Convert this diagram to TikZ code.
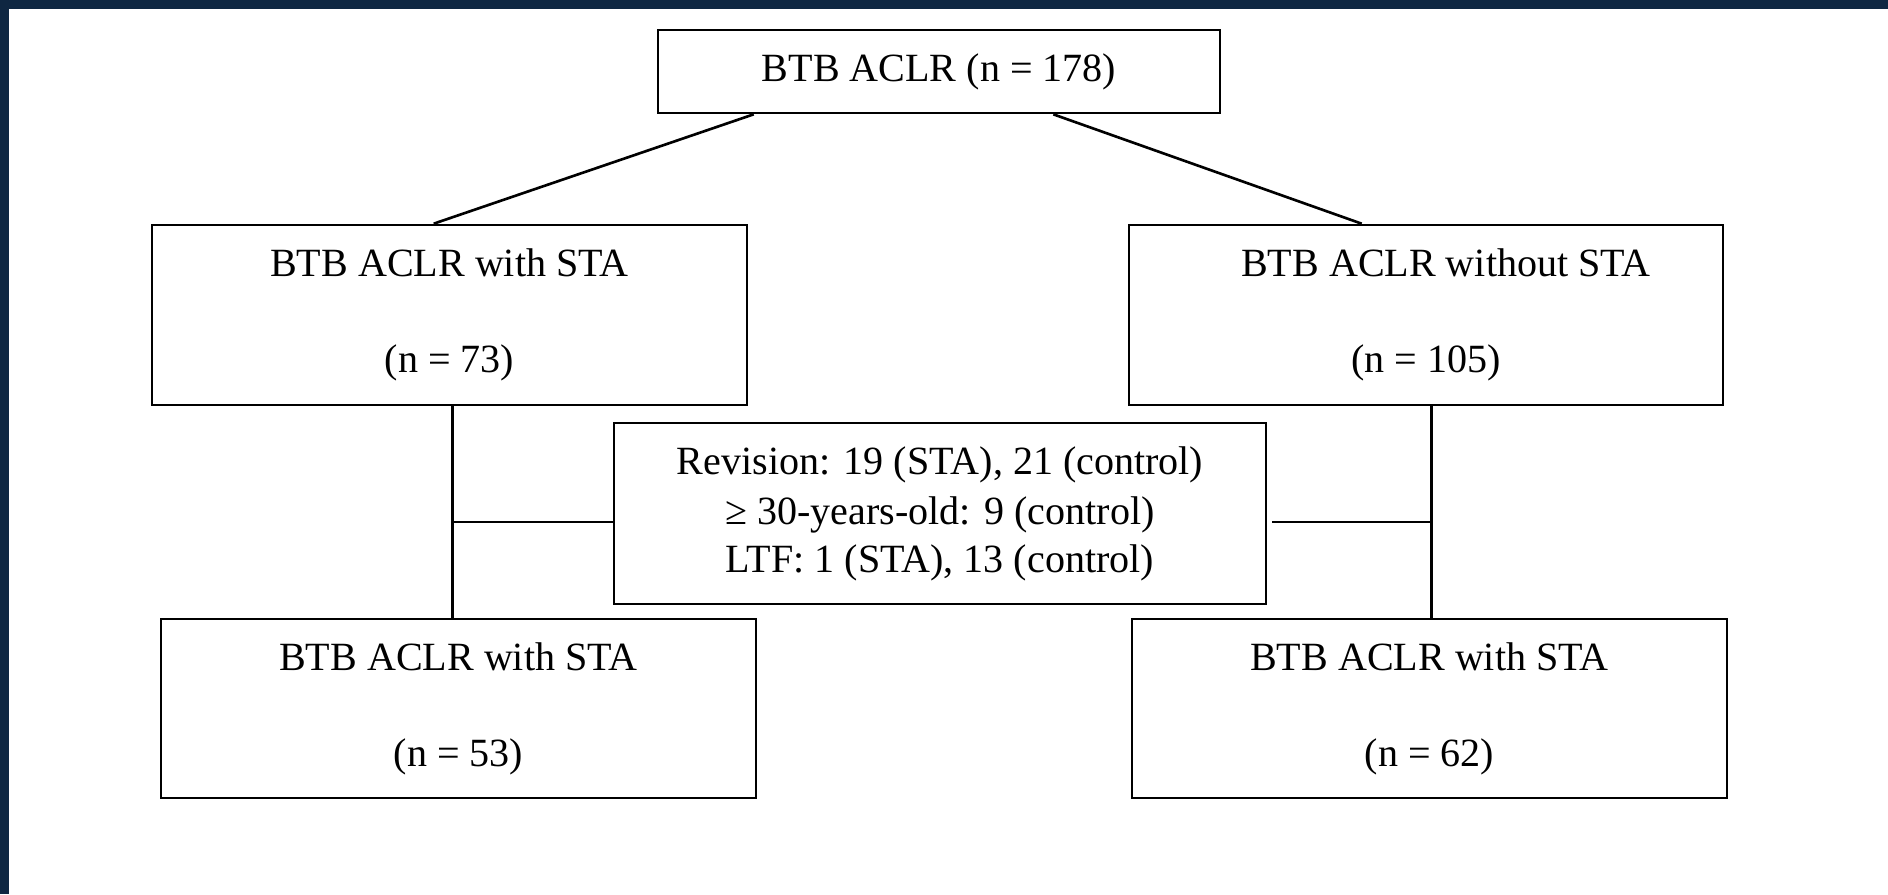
\documentclass[tikz,border=0pt]{standalone}
\usepackage{fontspec}
\setmainfont{Liberation Serif}
\usetikzlibrary{calc}
\definecolor{frame}{HTML}{0F2742}

\begin{document}
\begin{tikzpicture}[
				box/.style = {draw, line width=0.75pt, align=center, inner sep=0pt, font=\fontsize{11.4}{13.4}\selectfont},
				link/.style = {line width=0.75pt},
			]
			\fill[frame] (0,0) rectangle (18.88,-8.94);
			\fill[white] (0.09,-0.09) rectangle (18.88,-8.94);
			\useasboundingbox (0,0) rectangle (18.88,-8.94);

			\node[box, minimum width=5.62cm, minimum height=0.83cm] (all) at (9.39,-0.715) {BTB ACLR (n = 178)};
			\node[box, minimum width=5.95cm, minimum height=1.80cm] (sta) at (4.495,-3.15) {BTB ACLR with STA\\[14pt](n = 73)};
			\node[box, minimum width=5.94cm, minimum height=1.80cm] (ctrl) at (14.26,-3.15) {\hspace{0.4cm}BTB ACLR without STA\\[14pt](n = 105)};
			\node[box, minimum width=6.52cm, minimum height=1.81cm] (excl) at (9.40,-5.135) {Revision: 19 (STA), 21 (control)\\[1pt]≥ 30-years-old: 9 (control)\\LTF: 1 (STA), 13 (control)};
			\node[box, minimum width=5.95cm, minimum height=1.79cm] (staf) at (4.585,-7.085) {BTB ACLR with STA\\[14pt](n = 53)};
			\node[box, minimum width=5.95cm, minimum height=1.79cm] (ctrlf) at (14.295,-7.085) {BTB ACLR with STA\\[14pt](n = 62)};

			\draw[link] ([xshift=0.97cm]all.south west) -- ([xshift=2.83cm]sta.north west);
			\draw[link] ([xshift=-1.68cm]all.south east) -- ([xshift=2.34cm]ctrl.north west);

			\coordinate (jl) at ([xshift=3.02cm]sta.south west);
			\coordinate (jr) at ([xshift=3.04cm]ctrl.south west);
			\coordinate (ew) at ([yshift=-0.085cm]excl.west);
			\coordinate (ee) at ([yshift=-0.085cm]excl.east);
			\draw[link] (jl) -- (jl |- staf.north);
			\draw[link] (jr) -- (jr |- ctrlf.north);
			\draw[link] (ew) -- (ew -| jl);
			\draw[link] ([xshift=0.05cm]ee) -- (ee -| jr);
		\end{tikzpicture}
\end{document}
